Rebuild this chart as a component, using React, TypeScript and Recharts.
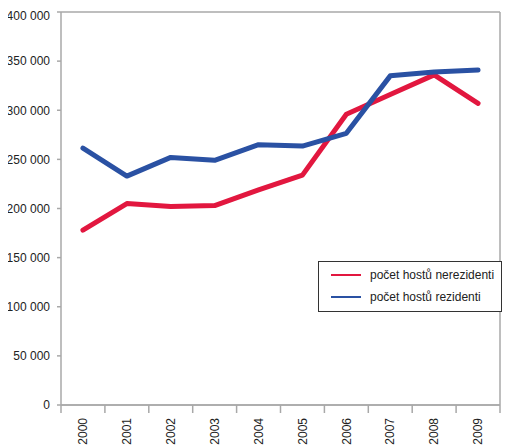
import React from "react";
import {
  LineChart,
  Line,
  XAxis,
  YAxis,
  CartesianGrid,
  Legend,
} from "recharts";

const years = ["2000", "2001", "2002", "2003", "2004", "2005", "2006", "2007", "2008", "2009"];
const nerezidenti = [178000, 205000, 202000, 203000, 219000, 234000, 296000, 316000, 336000, 307000];
const rezidenti = [261500, 233000, 252000, 249000, 265000, 263500, 276500, 335000, 339000, 341000];
const yTicks = [0, 50000, 100000, 150000, 200000, 250000, 300000, 350000, 400000];

const seriesNames = ["počet hostů nerezidenti", "počet hostů rezidenti"];
const RED = "#e2173f";
const BLUE = "#2a51a3";
const GRID = "#a8a8a8";
const FONT = "'Liberation Sans', Arial, sans-serif";

const data = years.map((year, i) => ({
  year,
  nerezidenti: nerezidenti[i],
  rezidenti: rezidenti[i],
}));

const fmt = (v: number) =>
  v === 0 ? "0" : String(v).replace(/\B(?=(\d{3})+(?!\d))/g, " ");

const YearTick = (props: any) => {
  const { x, y, payload, index, visibleTicksCount } = props;
  const half = payload.offset || 0;
  const top = y - 10;
  return (
    <g>
      <line x1={x - half} x2={x - half} y1={top} y2={top + 8} stroke={GRID} strokeWidth={1.5} />
      {index === visibleTicksCount - 1 && (
        <line x1={x + half} x2={x + half} y1={top} y2={top + 8} stroke={GRID} strokeWidth={1.5} />
      )}
      <g transform={`translate(${x},${y + 3})`}>
        <text
          transform="rotate(-90)"
          textAnchor="end"
          dy="0.35em"
          fontSize={12}
          fontFamily={FONT}
          fill="#222"
        >
          {payload.value}
        </text>
      </g>
    </g>
  );
};

const LegendBox = () => (
  <div
    style={{
      position: "absolute",
      left: 310,
      top: 253,
      width: 170,
      border: "1.5px solid #333",
      background: "#fff",
      padding: "2px 0 3px 12px",
      fontFamily: FONT,
      fontSize: 12,
      color: "#222",
      textAlign: "left",
    }}
  >
    {seriesNames.map((name, i) => (
      <div key={name} style={{ display: "flex", alignItems: "center", height: 22, whiteSpace: "nowrap" }}>
        <span
          style={{
            display: "inline-block",
            width: 30,
            height: 2,
            background: i === 0 ? RED : BLUE,
            marginRight: 9,
          }}
        />
        {name}
      </div>
    ))}
  </div>
);

export default function App() {
  return (
    <LineChart
      width={502}
      height={440}
      data={data}
      margin={{ top: 4, right: 9, bottom: 0, left: 0 }}
    >
      <CartesianGrid vertical={false} stroke={GRID} strokeWidth={1.5} />
      <XAxis
        dataKey="year"
        scale="band"
        height={43}
        tickLine={false}
        tickSize={8}
        tickMargin={2}
        axisLine={{ stroke: GRID, strokeWidth: 1.5 }}
        tick={<YearTick />}
        interval={0}
      />
      <YAxis
        yAxisId="l"
        width={53}
        domain={[0, 400000]}
        ticks={yTicks}
        tickFormatter={fmt}
        tickSize={4}
        tickMargin={7}
        axisLine={{ stroke: GRID, strokeWidth: 1.5 }}
        tickLine={{ stroke: GRID, strokeWidth: 1.5 }}
        tick={{ fontSize: 12, fontFamily: FONT, fill: "#222" }}
      />
      <YAxis
        yAxisId="r"
        orientation="right"
        width={1}
        tick={false}
        tickLine={false}
        axisLine={{ stroke: GRID, strokeWidth: 1.5 }}
      />
      <Legend
        content={<LegendBox />}
        layout="horizontal"
        verticalAlign="middle"
        align="center"
        wrapperStyle={{ top: 0, left: 0, width: 0, height: 0 }}
      />
      <Line
        yAxisId="l"
        type="linear"
        dataKey="nerezidenti"
        name={seriesNames[0]}
        stroke={RED}
        strokeWidth={5}
        strokeLinecap="round"
        strokeLinejoin="round"
        dot={false}
        isAnimationActive={false}
      />
      <Line
        yAxisId="l"
        type="linear"
        dataKey="rezidenti"
        name={seriesNames[1]}
        stroke={BLUE}
        strokeWidth={5}
        strokeLinecap="round"
        strokeLinejoin="round"
        dot={false}
        isAnimationActive={false}
      />
    </LineChart>
  );
}
